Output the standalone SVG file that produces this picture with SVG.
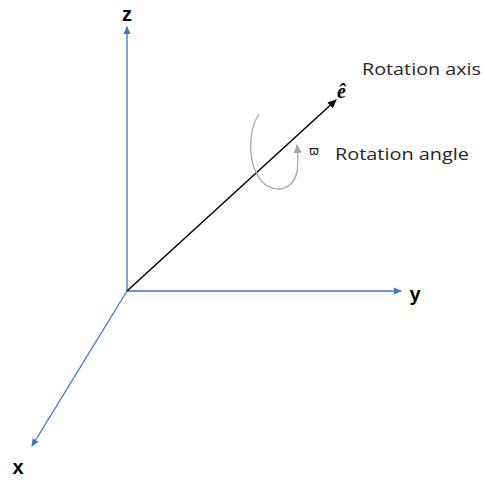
<svg xmlns="http://www.w3.org/2000/svg" width="483" height="483" viewBox="0 0 483 483">
<defs>
<marker id="ab" markerWidth="8" markerHeight="8" refX="7" refY="4" orient="auto" markerUnits="userSpaceOnUse"><path d="M0,0.5 L8,4 L0,7.5 Z" fill="#4472C4"/></marker>
<marker id="ak" markerWidth="9" markerHeight="9" refX="8" refY="4.5" orient="auto" markerUnits="userSpaceOnUse"><path d="M0,0.5 L9,4.5 L0,8.5 Z" fill="#000"/></marker>
<marker id="ag" markerWidth="9" markerHeight="9" refX="8" refY="4.5" orient="auto" markerUnits="userSpaceOnUse"><path d="M0,0.5 L9,4.5 L0,8.5 Z" fill="#a6a6a6"/></marker>
</defs>
<style>
.ax{stroke:#4472C4;stroke-width:1.3;fill:none;marker-end:url(#ab)}
.lbl{font-family:"Liberation Sans",Arial,sans-serif;font-weight:bold;font-size:20px;fill:#000}
.t{font-family:"Open Sans","Noto Sans",sans-serif;font-size:17px;fill:#262626}
</style>
<g id="connectors">
<line class="ax" x1="127" y1="291" x2="127" y2="27"/>
<line class="ax" x1="127" y1="291" x2="401" y2="291"/>
<line class="ax" x1="127" y1="291" x2="32" y2="446"/>
<line x1="127" y1="291" x2="336" y2="100" stroke="#000" stroke-width="1.5" marker-end="url(#ak)"/>
<path d="M259,114 C248,130 248,160 258,176 C268,194 292,194 297,172 C298,165 298,155 297,145" fill="none" stroke="#a6a6a6" stroke-width="1.3" marker-end="url(#ag)"/>
</g>
<g id="z"><text class="lbl" x="127" y="21" text-anchor="middle">z</text></g>
<g id="y"><text class="lbl" x="415" y="301" text-anchor="middle">y</text></g>
<g id="x"><text class="lbl" x="18" y="474" text-anchor="middle">x</text></g>
<g id="axis-label">
<text x="337" y="98" font-family="'Liberation Serif',serif" font-style="italic" font-weight="bold" font-size="20" fill="#000">ê</text>
<text class="t" x="362" y="75" textLength="119" lengthAdjust="spacingAndGlyphs">Rotation axis</text>
</g>
<g id="angle-label">
<text x="309" y="155" font-family="'DejaVu Sans',sans-serif" font-size="12" fill="#262626">ϖ</text>
<text class="t" x="335" y="160" textLength="134" lengthAdjust="spacingAndGlyphs">Rotation angle</text>
</g>
</svg>
